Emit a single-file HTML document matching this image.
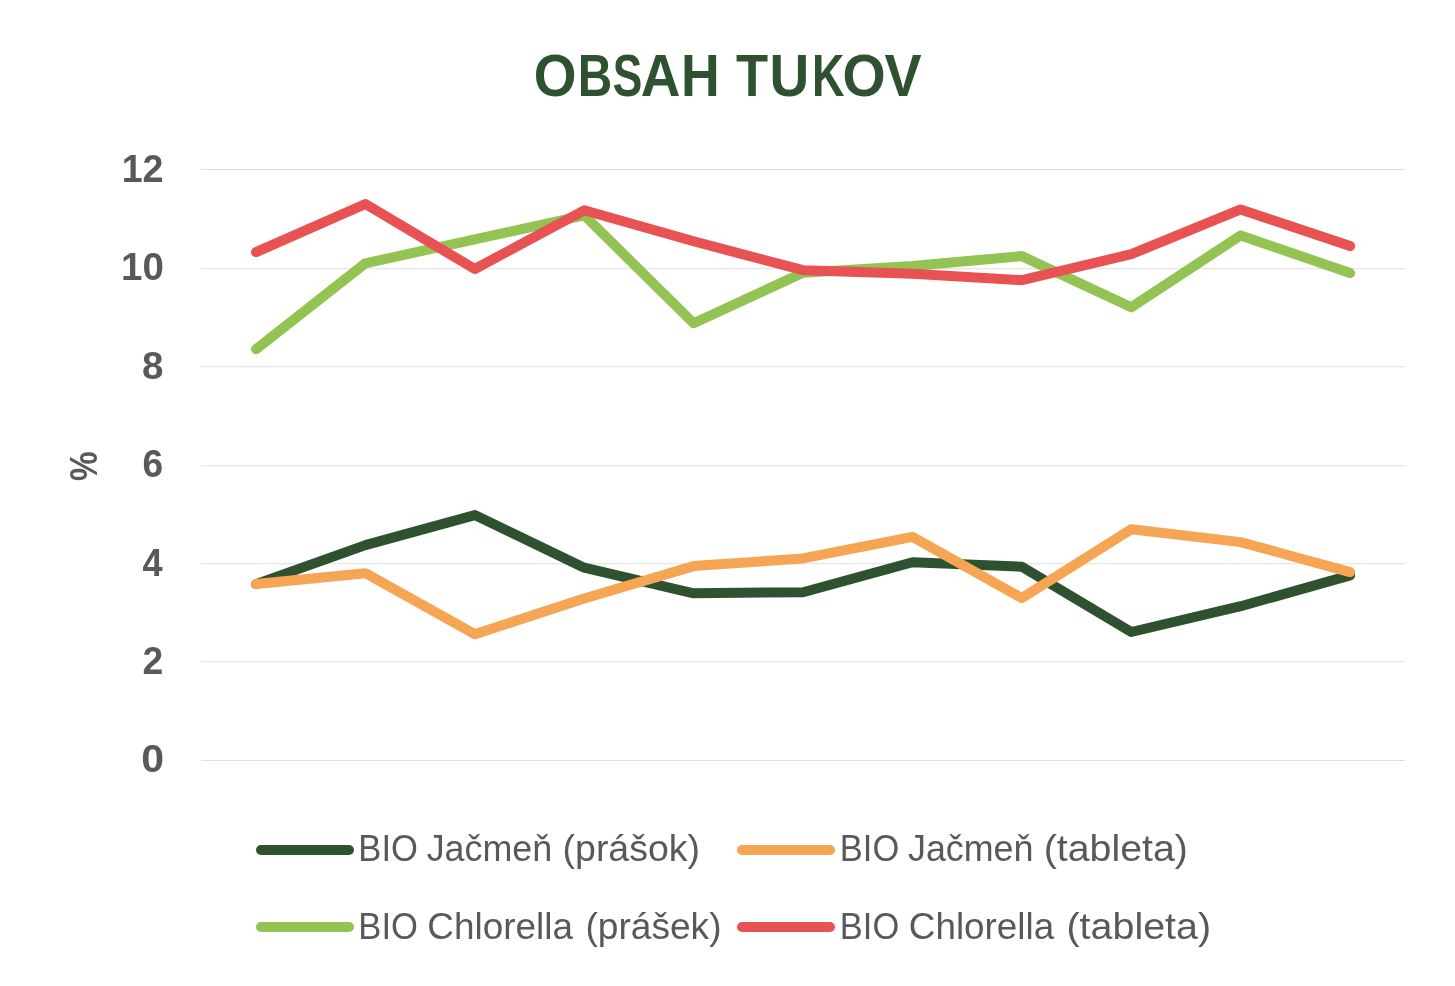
<!DOCTYPE html>
<html lang="sk">
<head>
<meta charset="utf-8">
<title>OBSAH TUKOV</title>
<style>
html,body{margin:0;padding:0;background:#ffffff;}
body{width:1455px;height:986px;overflow:hidden;font-family:"Liberation Sans",sans-serif;}
svg{display:block;will-change:transform;}
text{font-family:"Liberation Sans",sans-serif;}
.ax{font-weight:bold;font-size:38.6px;fill:#595959;}
.lg{font-size:37.7px;fill:#595959;}
.tt{font-weight:bold;font-size:58.8px;fill:#2E5230;}
</style>
</head>
<body>
<svg width="1455" height="986" viewBox="0 0 1455 986">
<rect x="0" y="0" width="1455" height="986" fill="#ffffff"/>
<text class="tt" transform="translate(533.70,95.50) scale(0.9348,1.0000)">O</text>
<text class="tt" transform="translate(577.68,95.50) scale(0.8113,1.0000)">B</text>
<text class="tt" transform="translate(612.67,95.50) scale(0.7543,1.0000)">S</text>
<text class="tt" transform="translate(640.83,95.50) scale(0.9341,1.0000)">A</text>
<text class="tt" transform="translate(680.98,95.50) scale(0.9119,1.0000)">H</text>
<text class="tt" transform="translate(736.07,95.50) scale(0.8936,1.0000)">T</text>
<text class="tt" transform="translate(769.60,95.50) scale(0.9354,1.0000)">U</text>
<text class="tt" transform="translate(811.97,95.50) scale(0.7646,1.0000)">K</text>
<text class="tt" transform="translate(842.48,95.50) scale(0.9446,1.0000)">O</text>
<text class="tt" transform="translate(884.38,95.50) scale(0.9461,1.0000)">V</text>
<g shape-rendering="crispEdges">
<rect x="201" y="169" width="1204" height="1" fill="#DEDEDE"/>
<rect x="201" y="268" width="1204" height="1" fill="#E6E6E6"/>
<rect x="201" y="269" width="1204" height="1" fill="#F8F8F8"/>
<rect x="201" y="366" width="1204" height="1" fill="#E6E6E6"/>
<rect x="201" y="367" width="1204" height="1" fill="#F8F8F8"/>
<rect x="201" y="465" width="1204" height="1" fill="#E6E6E6"/>
<rect x="201" y="466" width="1204" height="1" fill="#F8F8F8"/>
<rect x="201" y="563" width="1204" height="1" fill="#E6E6E6"/>
<rect x="201" y="564" width="1204" height="1" fill="#F8F8F8"/>
<rect x="201" y="661" width="1204" height="1" fill="#E6E6E6"/>
<rect x="201" y="662" width="1204" height="1" fill="#F8F8F8"/>
<rect x="201" y="760" width="1204" height="1" fill="#DEDEDE"/>
</g>
<text class="ax" transform="translate(121.65,182.00) scale(0.9746,1.0000)">12</text>
<text class="ax" transform="translate(121.09,280.10) scale(0.9977,1.0000)">10</text>
<text class="ax" transform="translate(142.05,378.80) scale(0.9994,1.0000)">8</text>
<text class="ax" transform="translate(142.61,477.00) scale(0.9611,1.0000)">6</text>
<text class="ax" transform="translate(142.46,575.50) scale(0.9346,1.0000)">4</text>
<text class="ax" transform="translate(142.39,673.70) scale(0.9661,1.0000)">2</text>
<text class="ax" transform="translate(141.26,772.10) scale(1.0635,1.0000)">0</text>
<text class="ax" transform="translate(96.80,481.03) rotate(-90) scale(0.8630,1.0252)">%</text>
<polyline fill="none" stroke="#2E5230" stroke-width="10" stroke-linecap="round" stroke-linejoin="round" points="256.0,584.1 365.4,545.1 474.8,515.1 584.2,567.7 693.6,593.3 803.0,592.2 912.5,562.3 1021.9,566.7 1131.3,632.0 1240.7,606.2 1350.1,575.4"/>
<polyline fill="none" stroke="#F5A554" stroke-width="10" stroke-linecap="round" stroke-linejoin="round" points="256.0,584.1 365.4,573.2 474.8,634.2 584.2,598.5 693.6,566.1 803.0,558.4 912.5,536.9 1021.9,598.1 1131.3,529.2 1240.7,542.1 1350.1,572.1"/>
<polyline fill="none" stroke="#92C353" stroke-width="10" stroke-linecap="round" stroke-linejoin="round" points="256.0,349.2 365.4,263.3 474.8,239.3 584.2,215.3 693.6,323.2 803.0,272.7 912.5,266.0 1021.9,256.1 1131.3,307.2 1240.7,235.4 1350.1,273.1"/>
<polyline fill="none" stroke="#E85252" stroke-width="10" stroke-linecap="round" stroke-linejoin="round" points="256.0,252.2 365.4,204.0 474.8,269.0 584.2,210.3 693.6,241.3 803.0,270.2 912.5,273.7 1021.9,280.2 1131.3,254.2 1240.7,209.4 1350.1,246.1"/>
<line x1="261" y1="850" x2="349" y2="850" stroke="#2E5230" stroke-width="10" stroke-linecap="round"/>
<text class="lg" transform="translate(358.35,861.00) scale(0.9178,1.0000)">BIO</text>
<text class="lg" transform="translate(426.66,861.00) scale(0.9510,1.0000)">Jačmeň</text>
<text class="lg" transform="translate(562.56,861.00) scale(0.9944,1.0000)">(prášok)</text>
<line x1="742" y1="850" x2="830" y2="850" stroke="#F5A554" stroke-width="10" stroke-linecap="round"/>
<text class="lg" transform="translate(839.86,861.00) scale(0.9144,1.0000)">BIO</text>
<text class="lg" transform="translate(907.96,861.00) scale(0.9510,1.0000)">Jačmeň</text>
<text class="lg" transform="translate(1043.74,861.00) scale(1.0430,1.0000)">(tableta)</text>
<line x1="261" y1="927" x2="349" y2="927" stroke="#92C353" stroke-width="10" stroke-linecap="round"/>
<text class="lg" transform="translate(358.35,938.50) scale(0.9178,1.0000)">BIO</text>
<text class="lg" transform="translate(427.35,938.50) scale(0.9793,1.0000)">Chlorella</text>
<text class="lg" transform="translate(585.38,938.50) scale(0.9846,1.0000)">(prášek)</text>
<line x1="742" y1="927" x2="830" y2="927" stroke="#E85252" stroke-width="10" stroke-linecap="round"/>
<text class="lg" transform="translate(839.86,938.50) scale(0.9144,1.0000)">BIO</text>
<text class="lg" transform="translate(908.86,938.50) scale(0.9766,1.0000)">Chlorella</text>
<text class="lg" transform="translate(1066.43,938.50) scale(1.0468,1.0000)">(tableta)</text>
</svg>
</body>
</html>
